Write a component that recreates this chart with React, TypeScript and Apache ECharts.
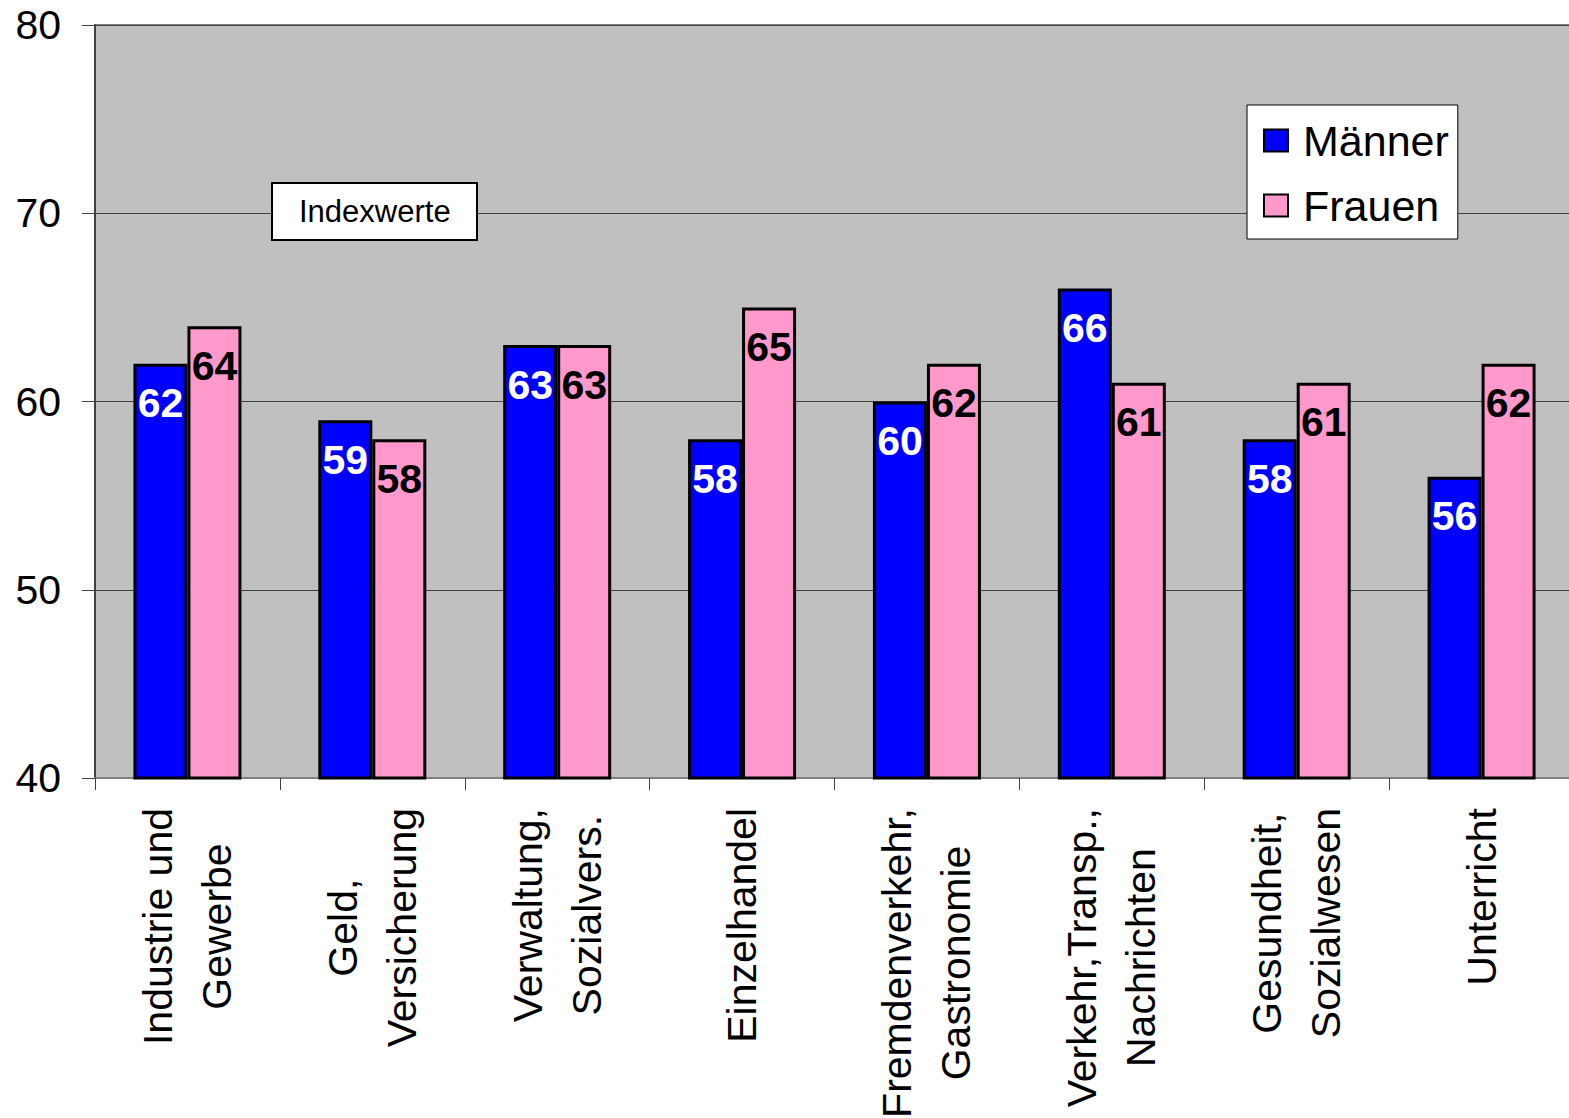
import React, { useEffect, useRef } from "react";
import * as echarts from "echarts";

const categories = [
  "Industrie und\nGewerbe",
  "Geld,\nVersicherung",
  "Verwaltung,\nSozialvers.",
  "Einzelhandel",
  "Fremdenverkehr,\nGastronomie",
  "Verkehr,Transp.,\nNachrichten",
  "Gesundheit,\nSozialwesen",
  "Unterricht",
];
const maenner = [62, 59, 63, 58, 60, 66, 58, 56];
const frauen = [64, 58, 63, 65, 62, 61, 61, 62];
const seriesNames = ["Männer", "Frauen"];
const boxLabel = "Indexwerte";

const FONT = "'Liberation Sans', Arial, sans-serif";

export default function App() {
  const ref = useRef<HTMLDivElement>(null);
  useEffect(() => {
    if (!ref.current) return;
    const chart = echarts.init(ref.current, undefined, { renderer: "svg" });
    chart.setOption({
      animation: false,
      textStyle: { fontFamily: FONT },
      title: {
        text: boxLabel,
        left: 272,
        top: 183,
        padding: [13, 27, 13, 27],
        backgroundColor: "#ffffff",
        borderColor: "#000000",
        borderWidth: 2,
        textStyle: { fontFamily: FONT, fontSize: 31, fontWeight: "normal", color: "#000" },
      },
      legend: {
        orient: "vertical",
        left: 1247,
        top: 105,
        padding: [14, 9, 12, 16],
        itemGap: 22,
        itemWidth: 24,
        itemHeight: 22,
        backgroundColor: "#ffffff",
        borderColor: "#000000",
        borderWidth: 1,
        icon: "rect",
        textStyle: { fontFamily: FONT, fontSize: 43, color: "#000", padding: [0, 0, 0, 10] },
        data: seriesNames,
      },
      grid: {
        left: 95,
        right: -5,
        top: 25,
        bottom: 340,
        show: true,
        backgroundColor: "#C0C0C0",
        borderColor: "#808080",
        borderWidth: 2,
        containLabel: false,
        outerBoundsMode: "none",
      },
      xAxis: {
        type: "category",
        data: categories,
        axisLine: { show: true, lineStyle: { color: "#808080", width: 2 } },
        axisTick: { show: true, length: 12, lineStyle: { color: "#404040", width: 1 } },
        axisLabel: {
          interval: 0,
          rotate: 90,
          margin: 30,
          fontSize: 41,
          color: "#000",
          fontFamily: FONT,
          formatter: (v: string) =>
            v
              .split("\n")
              .map((l) => `{c|${l}}`)
              .join("\n"),
          rich: {
            c: { align: "center", fontSize: 41, lineHeight: 59, color: "#000", fontFamily: FONT },
          },
        },
      },
      yAxis: {
        type: "value",
        min: 40,
        max: 80,
        interval: 10,
        axisLine: { show: true, lineStyle: { color: "#404040", width: 2 } },
        axisTick: { show: true, length: 13, lineStyle: { color: "#404040", width: 1 } },
        axisLabel: { fontSize: 41, color: "#000", margin: 34, fontFamily: FONT },
        splitLine: { show: true, lineStyle: { color: "#404040", width: 1 } },
      },
      series: [
        {
          name: seriesNames[0],
          type: "bar",
          data: maenner,
          barWidth: 54,
          barGap: "0%",
          itemStyle: { color: "#0000FF", borderColor: "#000", borderWidth: 3 },
          label: {
            show: true,
            position: "insideTop",
            distance: 19,
            color: "#ffffff",
            fontSize: 41,
            fontWeight: "bold",
            fontFamily: FONT,
          },
        },
        {
          name: seriesNames[1],
          type: "bar",
          data: frauen,
          barWidth: 54,
          barGap: "0%",
          itemStyle: { color: "#FF99CC", borderColor: "#000", borderWidth: 3 },
          label: {
            show: true,
            position: "insideTop",
            distance: 19,
            color: "#000000",
            fontSize: 41,
            fontWeight: "bold",
            fontFamily: FONT,
          },
        },
      ],
    });
    return () => chart.dispose();
  }, []);
  return (
    <div
      ref={ref}
      style={{ position: "absolute", left: 0, top: 0, width: 1569, height: 1118, background: "#fff" }}
    />
  );
}
